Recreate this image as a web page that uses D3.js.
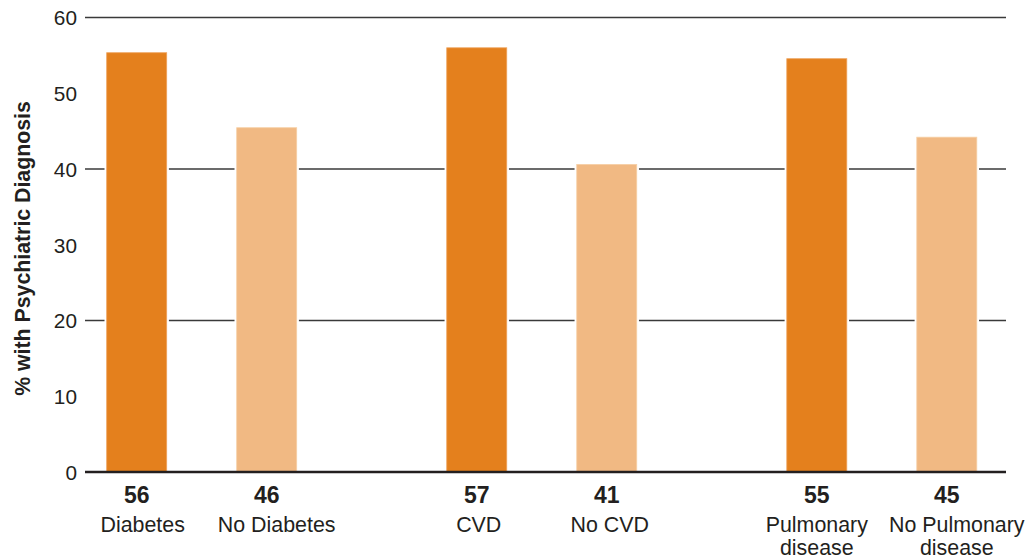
<!DOCTYPE html>
<html>
<head>
<meta charset="utf-8">
<script src="https://cdn.jsdelivr.net/npm/d3@7"></script>
<style>
  html, body { margin: 0; padding: 0; background: #fff; }
  svg { display: block; font-family: "Liberation Sans", Arial, Helvetica, sans-serif; }
</style>
</head>
<body>
<svg id="chart" width="1033" height="558"></svg>
<script>
// ---- data ----
const groups = ["Diabetes", "CVD", "Pulmonary"];
const subgroups = ["with", "without"];
const categoryLabels = [["Diabetes"], ["No Diabetes"], ["CVD"], ["No CVD"], ["Pulmonary", "disease"], ["No Pulmonary", "disease"]];
const barValues = [55.35, 45.45, 56.0, 40.6, 54.56, 44.2];
const valueLabels = ["56", "46", "57", "41", "55", "45"];
const yTicks = [0, 10, 20, 30, 40, 50, 60];
const gridValues = [20, 40, 60];
const yTitle = "% with Psychiatric Diagnosis";
const colors = { with: "#e4801d", without: "#f1b983" };

// ---- layout ----
const svg = d3.select("#chart");
const plotLeft = 85, plotRight = 1006;
const catNudge = [6, 10, 2, 3, 0, 10]; // small manual label offsets seen in the original

const y = d3.scaleLinear().domain([0, 60]).range([472, 17.5]);
const xGroup = d3.scalePoint().domain(groups).range([201.7, 881.8]);
const xSub = d3.scaleBand().domain(subgroups).range([-95, 95]).paddingInner(0.5385);

const bars = barValues.map((v, i) => ({
  group: groups[Math.floor(i / 2)],
  sub: subgroups[i % 2],
  value: v,
  label: valueLabels[i],
  cat: categoryLabels[i],
  nudge: catNudge[i]
}));
const bx = d => xGroup(d.group) + xSub(d.sub);

// gridlines
svg.append("g").selectAll("line").data(gridValues).join("line")
  .attr("x1", plotLeft).attr("x2", plotRight)
  .attr("y1", d => y(d)).attr("y2", d => y(d))
  .attr("stroke", "#3a3a3a").attr("stroke-width", 1.4);

// white gaps behind bars
svg.append("g").selectAll("rect").data(bars).join("rect")
  .attr("x", d => bx(d) - 2.2)
  .attr("width", xSub.bandwidth() + 4.4)
  .attr("y", d => y(d.value) - 1)
  .attr("height", d => y(0) - y(d.value) + 1)
  .attr("fill", "#fff");

// bars
svg.append("g").selectAll("rect").data(bars).join("rect")
  .attr("x", d => bx(d))
  .attr("width", xSub.bandwidth())
  .attr("y", d => y(d.value))
  .attr("height", d => y(0) - y(d.value))
  .attr("fill", d => colors[d.sub])
  .attr("stroke", d => d.sub === "with" ? "#eda25c" : "#f6cfa6")
  .attr("stroke-width", 0.8);

// baseline
svg.append("line")
  .attr("x1", plotLeft).attr("x2", plotRight)
  .attr("y1", y(0)).attr("y2", y(0))
  .attr("stroke", "#231f20").attr("stroke-width", 2.6);

// y axis tick labels (via d3 axis, domain and tick lines hidden)
const yAxis = d3.axisLeft(y).tickValues(yTicks).tickSize(0).tickPadding(0).tickFormat(d3.format("d"));
const ag = svg.append("g").attr("transform", `translate(${77},0)`).call(yAxis);
ag.select(".domain").remove();
ag.selectAll("text")
  .attr("font-family", "'Liberation Sans', Arial, Helvetica, sans-serif")
  .attr("font-size", "20.8px")
  .attr("fill", "#231f20")
  .attr("dy", "0.35em");

// y title
svg.append("text")
  .attr("transform", `translate(30,248.5) rotate(-90)`)
  .attr("text-anchor", "middle")
  .attr("font-size", "21.3px")
  .attr("font-weight", "bold")
  .attr("fill", "#231f20")
  .text(yTitle);

// value labels
svg.append("g").selectAll("text").data(bars).join("text")
  .attr("x", d => bx(d) + xSub.bandwidth() / 2)
  .attr("y", 503.3)
  .attr("text-anchor", "middle")
  .attr("font-size", "23px")
  .attr("font-weight", "bold")
  .attr("fill", "#231f20")
  .text(d => d.label);

// category labels
const cg = svg.append("g").selectAll("text").data(bars).join("text")
  .attr("y", 531.7)
  .attr("text-anchor", "middle")
  .attr("font-size", "21.4px")
  .attr("fill", "#231f20");
cg.selectAll("tspan").data(d => d.cat.map(t => ({ t, x: bx(d) + xSub.bandwidth() / 2 + d.nudge }))).join("tspan")
  .attr("x", t => t.x)
  .attr("dy", (t, i) => i === 0 ? 0 : 22.8)
  .text(t => t.t);
</script>
</body>
</html>
